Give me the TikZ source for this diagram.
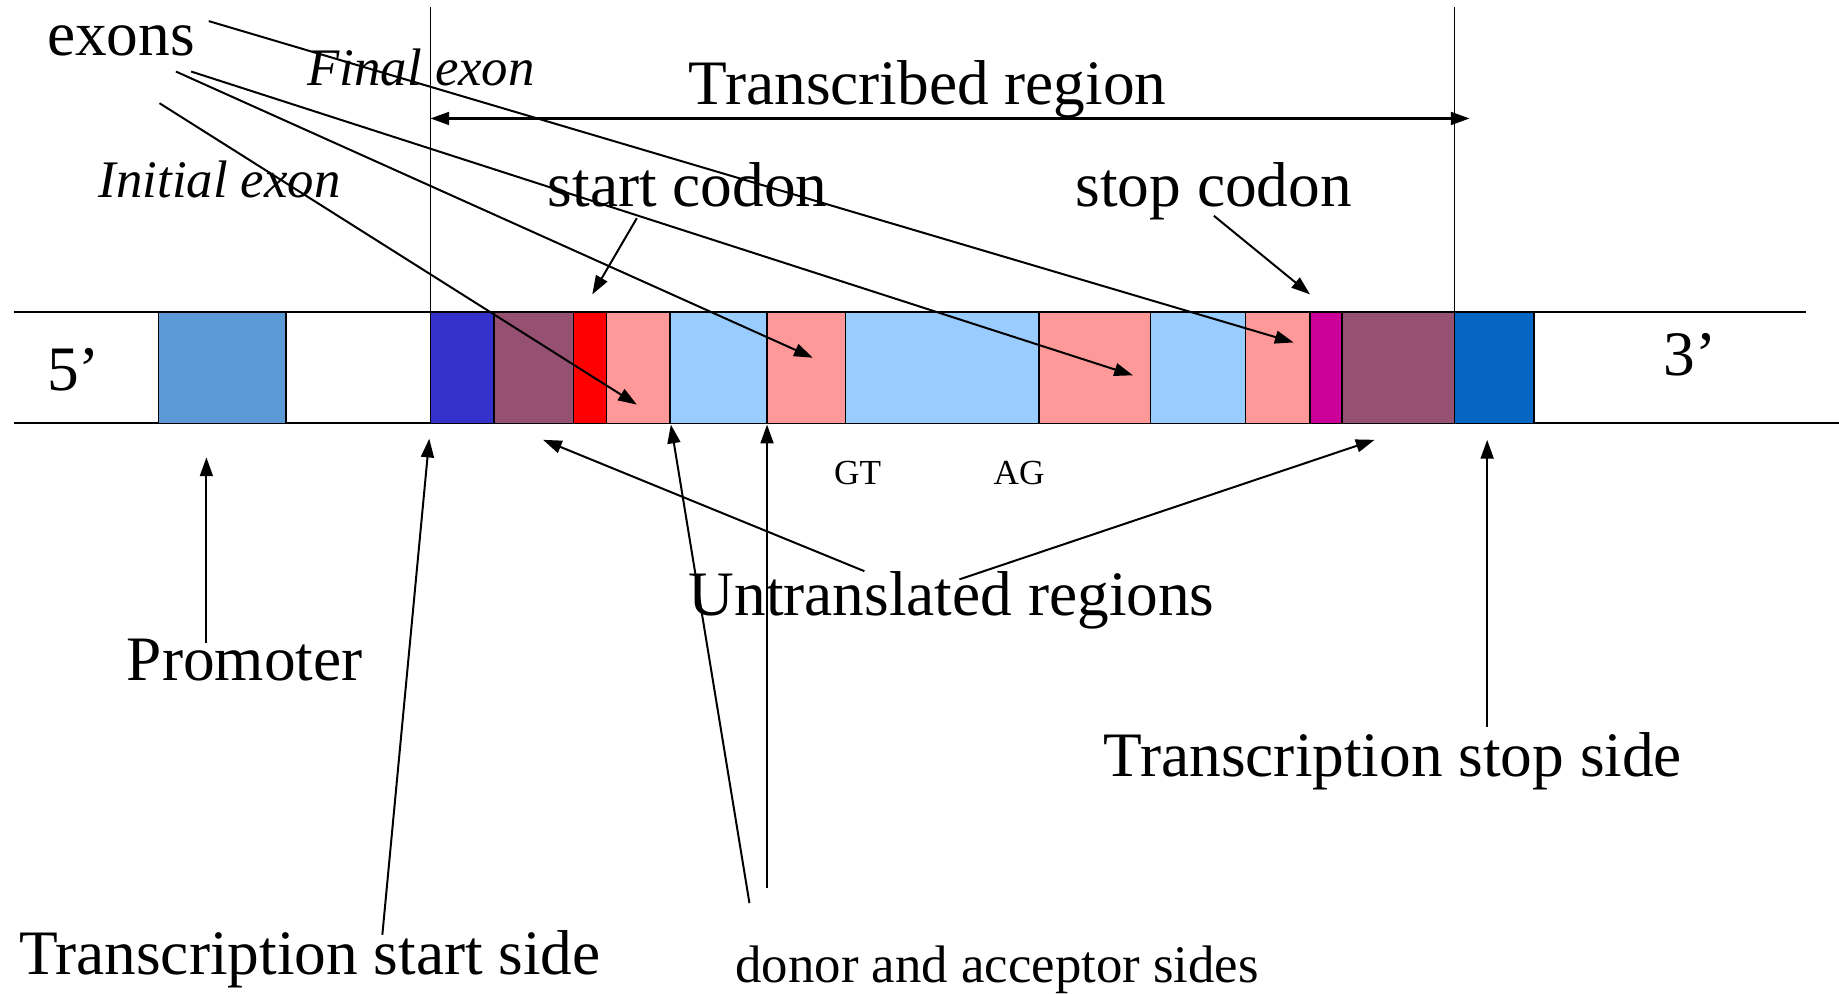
\documentclass[tikz,border=0pt]{standalone}
\usepackage{fontspec}
\setmainfont{Liberation Serif}
\usetikzlibrary{arrows.meta}

\begin{document}
\begin{tikzpicture}[x=1pt,y=-1pt,
  strand/.style={line width=1.8pt},
  guide/.style={line width=1.4pt},
  seg/.style={draw=black,line width=1.4pt,anchor=north west,inner sep=0pt,
    minimum height=95pt,outer sep=0pt},
  ptr/.style={line width=1.7pt,-{Triangle[length=16pt,width=11pt]}},
  span/.style={line width=1.9pt,{Triangle[length=16pt,width=11pt]}-{Triangle[length=16pt,width=11pt]}},
  big/.style={font=\fontsize{54}{60}\selectfont,inner sep=0pt,anchor=base west},
  ital/.style={font=\fontsize{45}{50}\selectfont\itshape,inner sep=0pt,anchor=base west},
  mid/.style={font=\fontsize{45}{50}\selectfont,inner sep=0pt,anchor=base west},
  tiny/.style={font=\fontsize{30}{34}\selectfont,inner sep=0pt,anchor=base west},
]
\definecolor{promblue}{HTML}{5B9AD5}
\definecolor{tssblue}{HTML}{3333CC}
\definecolor{utrmauve}{HTML}{955072}
\definecolor{startred}{HTML}{FF0000}
\definecolor{exonpink}{HTML}{FF9999}
\definecolor{intronblue}{HTML}{99CCFF}
\definecolor{stopmag}{HTML}{CC0099}
\definecolor{tesblue}{HTML}{0565C2}

\useasboundingbox (0,0) rectangle (1568,847);

% DNA strand
\draw[strand] (12,266) -- (1540,266);
\draw[strand] (12,361) -- (1568,361);

% gene segments
\node[seg,fill=promblue,minimum width=109pt] (prom) at (135,266) {};
\node[seg,fill=tssblue,minimum width=54pt] (tss) at (367,266) {};
\node[seg,fill=utrmauve,minimum width=68pt] (utr5) at (421,266) {};
\node[seg,fill=startred,minimum width=28pt] (atg) at (489,266) {};
\node[seg,fill=exonpink,minimum width=54pt] (ex1) at (517,266) {};
\node[seg,fill=intronblue,minimum width=83pt] (in1) at (571,266) {};
\node[seg,fill=exonpink,minimum width=67pt] (ex2) at (654,266) {};
\node[seg,fill=intronblue,minimum width=165pt] (in2) at (721,266) {};
\node[seg,fill=exonpink,minimum width=95pt] (ex3) at (886,266) {};
\node[seg,fill=intronblue,minimum width=81pt] (in3) at (981,266) {};
\node[seg,fill=exonpink,minimum width=55pt] (ex4) at (1062,266) {};
\node[seg,fill=stopmag,minimum width=27pt] (stp) at (1117,266) {};
\node[seg,fill=utrmauve,minimum width=96pt] (utr3) at (1144,266) {};
\node[seg,fill=tesblue,minimum width=68pt] (tes) at (1240,266) {};

% transcribed region limits
\coordinate (lt) at (367,6);
\coordinate (rt) at (1240,6);
\draw[guide] (lt) -- (tss.north west);
\draw[guide] (rt) -- (tes.north west);
\coordinate (spanL) at (367,101);
\coordinate (spanR) at (1253,101);
\draw[span] (spanL) -- (spanR);

% labels
\node[big] (exons) at (40,47) {exons};
\node[ital] (final) at (262,73) {Final exon};
\node[big] (trreg) at (587,89) {Transcribed region};
\node[ital] (initial) at (84,168) {Initial exon};
\node[big] (startc) at (467,176) {start codon};
\node[big] (stopc) at (917,176) {stop codon};
\node[big] (five) at (40,333) {5’};
\node[big] (three) at (1418,320) {3’};
\node[tiny] (gt) at (711,413) {GT};
\node[tiny] (ag) at (847,413) {AG};
\node[big] (untr) at (587,525) {Untranslated regions};
\node[big] (promlbl) at (108,580) {Promoter};
\node[big] (stopside) at (941,662) {Transcription stop side};
\node[big] (startside) at (16,831) {Transcription start side};
\node[mid] (donor) at (627,838) {donor and acceptor sides};

% exon pointers
\coordinate (x1s) at (178,18);  \coordinate (x1t) at (1103,292);
\coordinate (x2s) at (163,61);  \coordinate (x2t) at (966,320);
\coordinate (x3s) at (150,61);  \coordinate (x3t) at (693,305);
\coordinate (x4s) at (136,88);  \coordinate (x4t) at (543,345);
\draw[ptr] (x1s) -- (x1t);
\draw[ptr] (x2s) -- (x2t);
\draw[ptr] (x3s) -- (x3t);
\draw[ptr] (x4s) -- (x4t);

% codon pointers
\coordinate (sc1) at (543,186); \coordinate (sc2) at (505,251);
\coordinate (pc1) at (1035,184); \coordinate (pc2) at (1117,251);
\draw[ptr] (sc1) -- (sc2);
\draw[ptr] (pc1) -- (pc2);

% pointers from below
\coordinate (pr1) at (176,548); \coordinate (pr2) at (176,390);
\draw[ptr] (pr1) -- (pr2);
\coordinate (ts1) at (326,797); \coordinate (ts2) at (366,374);
\draw[ptr] (ts1) -- (ts2);
\coordinate (u0) at (737,487); \coordinate (u1) at (463,375);
\coordinate (u2) at (818,494); \coordinate (u3) at (1172,375);
\draw[ptr] (u0) -- (u1);
\draw[ptr] (u2) -- (u3);
\coordinate (d0) at (639,770); \coordinate (d1) at (572,362);
\coordinate (d2) at (654,757); \coordinate (d3) at (654,362);
\draw[ptr] (d0) -- (d1);
\draw[ptr] (d2) -- (d3);
\coordinate (tt1) at (1268,620); \coordinate (tt2) at (1268,375);
\draw[ptr] (tt1) -- (tt2);
\end{tikzpicture}
\end{document}
